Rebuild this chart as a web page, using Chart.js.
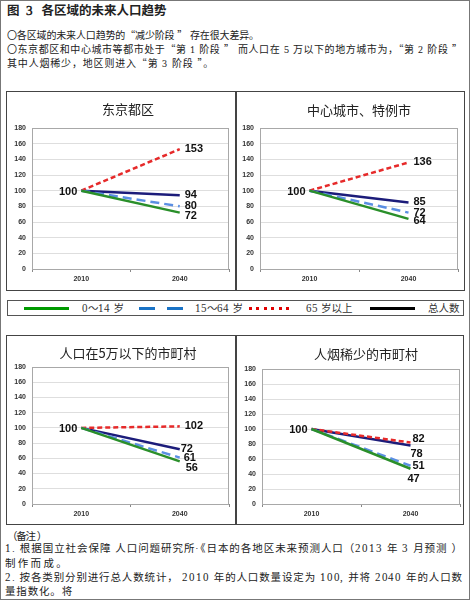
<!DOCTYPE html>
<html>
<head>
<meta charset="utf-8">
<script src="https://cdn.jsdelivr.net/npm/chart.js@4.4.0/dist/chart.umd.min.js"></script>
<style>
@font-face { font-family: "LatinSerif"; src: local("Liberation Serif"); unicode-range: U+0000-00FF; }
body { margin: 0; background: #fff; }
#page { position: relative; width: 470px; height: 600px; box-sizing: border-box; border: 1px solid #777;
        overflow: hidden; font-family: "LatinSerif", "Noto Sans CJK SC", serif; color: #222; }
.t { position: absolute; white-space: nowrap; font-size: 10px; line-height: 13px; }
.panel { position: absolute; box-sizing: border-box; border: 1px solid #444; }
.legend { position: absolute; left: 6px; top: 299px; width: 457px; height: 16px; box-sizing: border-box; border: 1px solid #555; }
.sw { position: absolute; top: 6px; height: 3px; }
.lt { position: absolute; top: 1px; font-size: 10.5px; line-height: 13px; white-space: nowrap; color: #333; }
</style>
</head>
<body>
<div id="page">
  <div class="t" style="left:6px;top:2px;font-size:12.5px;line-height:16px;font-weight:bold;">图&nbsp;&nbsp;3&nbsp;&nbsp;&nbsp;各区域的未来人口趋势</div>
  <div class="t fit" data-w="252" style="left:6px;top:28px;">〇各区域的未来人口趋势的“减少阶段 ” 存在很大差异。</div>
  <div class="t fit" data-w="456" style="left:6px;top:42px;">〇东京都区和中心城市等都市处于“第 1 阶段 ”  而人口在 5 万以下的地方城市为，“第 2 阶段 ”</div>
  <div class="t fit" data-w="207" style="left:6px;top:56px;">其中人烟稀少，地区则进入“第 3 阶段 ”。</div>

  <div class="panel" style="left:5px;top:90px;width:230px;height:200px;"><canvas id="c0"></canvas></div>
  <div class="panel" style="left:235px;top:90px;width:229px;height:200px;"><canvas id="c1"></canvas></div>

  <div class="legend">
    <div class="sw" style="left:16px;width:45px;background:#009a00;"></div>
    <div class="lt" style="left:74px;">0～14 岁</div>
    <div class="sw" style="left:131px;width:16px;background:#1a73c6;"></div>
    <div class="sw" style="left:159px;width:16px;background:#1a73c6;"></div>
    <div class="lt" style="left:187px;">15～64 岁</div>
    <div class="sw" style="left:241px;width:42px;background:repeating-linear-gradient(90deg,#e00000 0 3px,transparent 3px 7.5px);"></div>
    <div class="lt" style="left:298px;">65 岁以上</div>
    <div class="sw" style="left:362px;width:45px;background:#000;"></div>
    <div class="lt" style="left:420px;">总人数</div>
  </div>

  <div class="panel" style="left:5px;top:334px;width:230px;height:190px;"><canvas id="c2"></canvas></div>
  <div class="panel" style="left:235px;top:334px;width:228px;height:190px;"><canvas id="c3"></canvas></div>

  <div class="t fit" data-w="39" style="left:6px;top:529px;font-size:10.5px;">（备注 ）</div>
  <div class="t fit" data-w="458" style="left:4px;top:541px;font-size:10.5px;">1. 根据国立社会保障 人口问题研究所·《日本的各地区未来预测人口（2013 年 3 月预测 ）</div>
  <div class="t fit" data-w="64" style="left:4px;top:556px;font-size:10.5px;">制作而成。</div>
  <div class="t fit" data-w="458" style="left:4px;top:570px;font-size:10.5px;">2. 按各类别分别进行总人数统计， 2010 年的人口数量设定为 100, 并将 2040 年的人口数</div>
  <div class="t fit" data-w="68" style="left:4px;top:584px;font-size:10.5px;">量指数化。将</div>
</div>

<script>
// data
const years = ['2010', '2040'];
const regions = ['东京都区', '中心城市、特例市', '人口在5万以下的市町村', '人烟稀少的市町村'];
const base2010 = [100, 100, 100, 100];
const age0to14 = [72, 64, 56, 47];
const age15to64 = [80, 72, 61, 51];
const age65plus = [153, 136, 102, 82];
const total = [94, 85, 72, 78];
const yTicksMax = 180;
const yTicksStep = 20;

// stretch text lines to the widths they have in the scan
document.querySelectorAll('.fit').forEach(el => {
  const n = el.textContent.length;
  const w = el.getBoundingClientRect().width;
  el.style.letterSpacing = ((+el.dataset.w - w) / n).toFixed(2) + 'px';
});

// per panel layout: plot box in canvas px, title position, end label nudges [dx, dy]
const panels = [
  { left: 25, top: 36, right: 222, bottom: 177, titleX: 121, titleY: 17,
    nudge: [[0, 3], [0, 0], [0, 0], [0, 0]] },
  { left: 23, top: 36, right: 221, bottom: 177, titleX: 122, titleY: 18,
    nudge: [[0, 2], [0, 0], [0, 0], [0, 0]] },
  { left: 25, top: 31, right: 222, bottom: 168, titleX: 121, titleY: 17,
    nudge: [[1, 7], [-1, 0], [0, 0], [-4, 0]] },
  { left: 25, top: 33, right: 223, bottom: 168, titleX: 129, titleY: 18,
    nudge: [[-8, 10], [-3, 0], [-3, -4], [-5, 8]] }
];

const panelDecor = {
  id: 'panelDecor',
  beforeDatasetsDraw(chart, args, opts) {
    const { ctx, chartArea: a } = chart;
    ctx.save();
    ctx.strokeStyle = '#a8a8a8';
    ctx.lineWidth = 1;
    ctx.strokeRect(a.left + 0.5, a.top + 0.5, a.right - a.left - 1, a.bottom - a.top);
    ctx.restore();
  },
  afterDatasetsDraw(chart, args, opts) {
    const ctx = chart.ctx;
    ctx.save();
    ctx.fillStyle = '#222';
    ctx.font = '13px "Noto Sans CJK SC", sans-serif';
    ctx.textAlign = 'center';
    ctx.textBaseline = 'middle';
    ctx.fillText(opts.title, opts.titleX, opts.titleY);

    ctx.font = 'bold 11px "Liberation Sans", Arial, sans-serif';
    ctx.fillStyle = '#111';
    const first = chart.getDatasetMeta(0).data[0];
    ctx.textAlign = 'right';
    ctx.fillText(String(chart.data.datasets[0].data[0]), first.x - 4, first.y + 1);
    ctx.textAlign = 'left';
    chart.data.datasets.forEach((ds, i) => {
      const pt = chart.getDatasetMeta(i).data[1];
      const n = opts.nudge[i];
      ctx.fillText(String(ds.data[1]), pt.x + 5 + n[0], pt.y + n[1]);
    });
    ctx.restore();
  }
};

function makeChart(i) {
  const p = panels[i];
  const canvas = document.getElementById('c' + i);
  const W = canvas.parentNode.clientWidth;
  const H = canvas.parentNode.clientHeight;
  canvas.width = W; canvas.height = H;
  canvas.style.width = W + 'px'; canvas.style.height = H + 'px';
  new Chart(canvas, {
    type: 'line',
    data: {
      labels: years,
      datasets: [
        { label: '0～14 岁', data: [base2010[i], age0to14[i]], borderColor: '#2a8f2a', borderWidth: 2.5 },
        { label: '15～64 岁', data: [base2010[i], age15to64[i]], borderColor: '#5b8fe3', borderWidth: 2.5, borderDash: [9, 5] },
        { label: '65 岁以上', data: [base2010[i], age65plus[i]], borderColor: '#e62a2a', borderWidth: 2.5, borderDash: [5, 3] },
        { label: '总人数', data: [base2010[i], total[i]], borderColor: '#1c1c7a', borderWidth: 2.5 }
      ]
    },
    options: {
      responsive: false,
      animation: false,
      devicePixelRatio: 1,
      layout: { padding: { top: p.top, right: W - p.right, left: 0, bottom: 0 } },
      elements: { point: { radius: 0 }, line: { tension: 0, borderCapStyle: 'butt' } },
      plugins: {
        legend: { display: false },
        tooltip: { enabled: false },
        panelDecor: { title: regions[i], titleX: p.titleX, titleY: p.titleY, nudge: p.nudge }
      },
      scales: {
        x: {
          offset: true,
          afterFit(scale) { scale.height = H - p.bottom; },
          grid: { drawOnChartArea: false, offset: true, tickLength: 3, color: '#888' },
          border: { color: '#888' },
          ticks: { padding: 3, color: '#333', font: { size: 7, family: '"Liberation Sans", Arial', weight: 'bold' } }
        },
        y: {
          min: 0, max: yTicksMax,
          afterFit(scale) { scale.width = p.left; },
          grid: { color: '#dedede', drawTicks: false },
          border: { color: '#888' },
          ticks: { stepSize: yTicksStep, padding: 6, color: '#333', font: { size: 7, family: '"Liberation Sans", Arial', weight: 'bold' } }
        }
      }
    },
    plugins: [panelDecor]
  });
}

[0, 1, 2, 3].forEach(makeChart);
</script>
</body>
</html>
